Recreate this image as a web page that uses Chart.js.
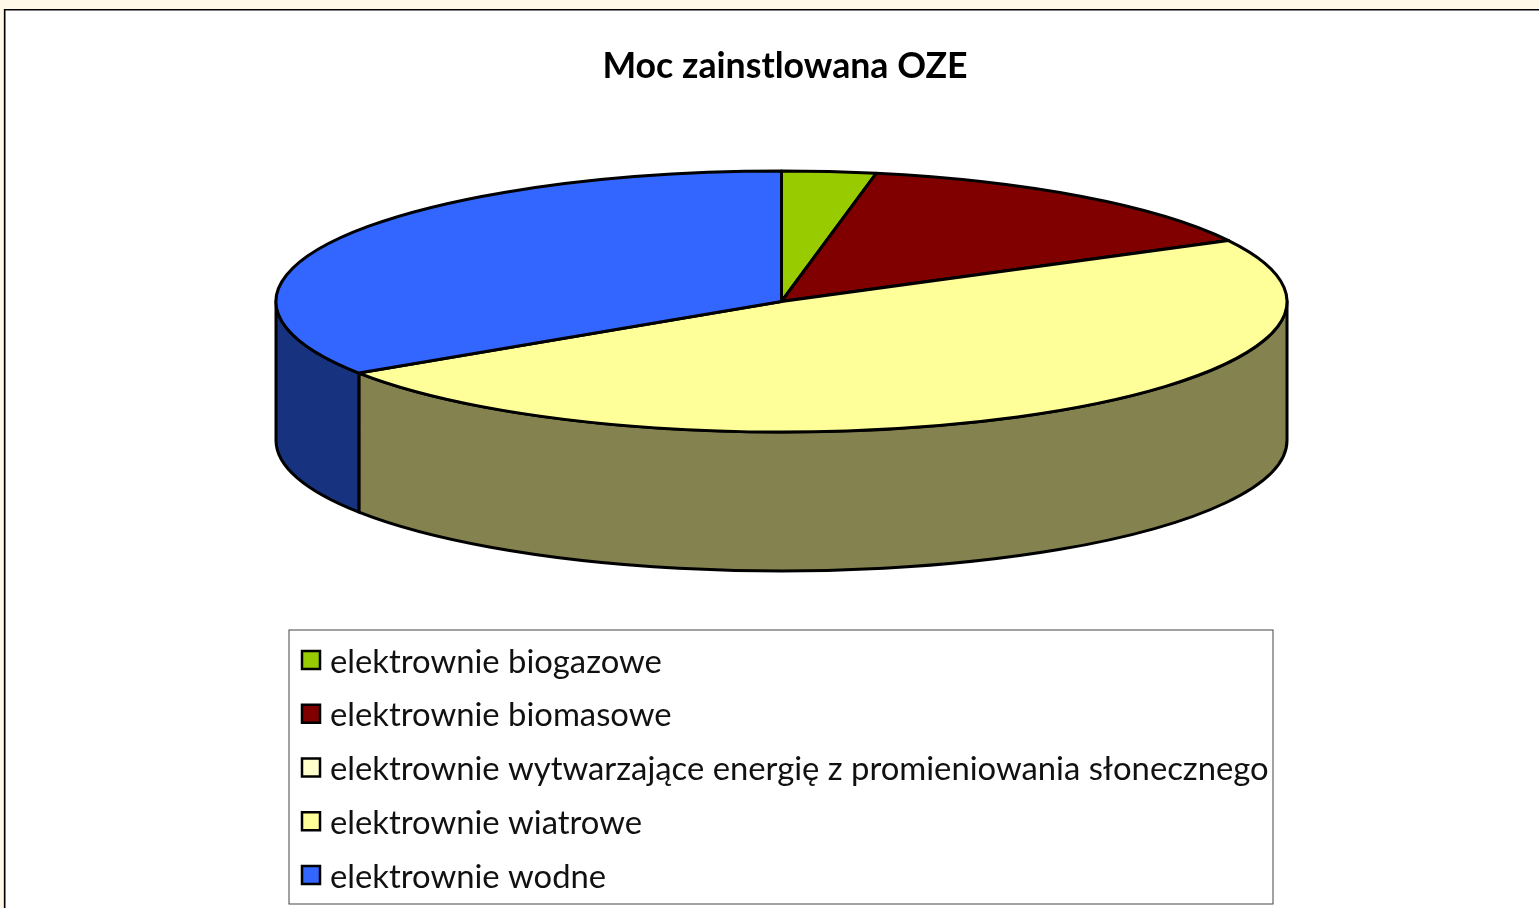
<!DOCTYPE html>
<html>
<head>
<meta charset="utf-8">
<style>
html, body { margin: 0; padding: 0; background: #fff8e8; overflow: hidden; }
canvas { display: block; }
</style>
<script src="https://cdn.jsdelivr.net/npm/chart.js@4"></script>
</head>
<body>
<canvas id="mypie" width="1539" height="908"></canvas>
<script>
const chartTitle = 'Moc zainstlowana OZE'
const categories = [
    'elektrownie biogazowe',
    'elektrownie biomasowe',
    'elektrownie wytwarzające energię z promieniowania słonecznego',
    'elektrownie wiatrowe',
    'elektrownie wodne'
]
const values = [3, 14.25, 0.02, 48.5, 34.25]
const topColors = ['#99cc00', '#800000', '#ffffcc', '#ffff99', '#3366ff']
const sideColors = ['#4d6600', '#400000', '#80804d', '#84824f', '#17337f']

// tilted pie: the controller gives the angles, we squash them into an ellipse
const tiltPlugin = {
    id: 'tilt',
    beforeDraw(chart) {
        const ctx = chart.ctx
        ctx.save()
        ctx.fillStyle = '#fff8e8'
        ctx.fillRect(0, 0, 1539, 908)
        ctx.fillStyle = '#d8d4c4'
        ctx.fillRect(3, 9, 1536, 899)
        ctx.fillStyle = '#000'
        ctx.fillRect(4, 9, 1535, 899)
        ctx.fillStyle = '#fff'
        ctx.fillRect(5.5, 10.5, 1534, 898)
        ctx.restore()
    },
    beforeDatasetsDraw(chart) {
        const ctx = chart.ctx
        const arcs = chart.getDatasetMeta(0).data
        const cx = 781.5, cy = 301.5, ry = 130.5, depth = 139
        ctx.save()
        ctx.lineWidth = 3
        ctx.lineJoin = 'round'
        ctx.strokeStyle = '#000'
        arcs.forEach((arc, i) => {
            const p = arc.getProps(['startAngle', 'endAngle', 'outerRadius'], true)
            const a = Math.max(p.startAngle, 0)
            const b = Math.min(p.endAngle, Math.PI)
            if (b <= a) return
            ctx.beginPath()
            ctx.ellipse(cx, cy, p.outerRadius, ry, 0, a, b)
            ctx.ellipse(cx, cy + depth, p.outerRadius, ry, 0, b, a, true)
            ctx.closePath()
            ctx.fillStyle = sideColors[i]
            ctx.fill()
            ctx.stroke()
        })
        arcs.forEach((arc, i) => {
            const p = arc.getProps(['startAngle', 'endAngle', 'outerRadius'], true)
            ctx.beginPath()
            ctx.moveTo(cx, cy)
            ctx.ellipse(cx, cy, p.outerRadius, ry, 0, p.startAngle, p.endAngle)
            ctx.closePath()
            ctx.fillStyle = topColors[i]
            ctx.fill()
            ctx.stroke()
        })
        ctx.restore()
        return false
    },
    afterDraw(chart) {
        const ctx = chart.ctx
        ctx.save()
        ctx.strokeStyle = '#444'
        ctx.lineWidth = 1
        ctx.strokeRect(289, 630, 984, 274)
        ctx.font = '32.8px Lato'
        ctx.textBaseline = 'middle'
        categories.forEach((label, i) => {
            const y = 661 + i * 53.75
            ctx.fillStyle = topColors[i]
            ctx.strokeStyle = '#000'
            ctx.lineWidth = 2.5
            ctx.fillRect(302, y - 10, 18, 18)
            ctx.strokeRect(302, y - 10, 18, 18)
            ctx.fillStyle = '#111'
            ctx.fillText(label, 330, y + 1)
        })
        ctx.restore()
    }
}

var mypie = new Chart(document.getElementById('mypie'), {
    type: 'pie',
    data: {
        labels: categories,
        datasets: [{
            data: values,
            backgroundColor: topColors
        }]
    },
    options: {
        responsive: false,
        animation: false,
        radius: 505.5,
        layout: { padding: { left: 31 } },
        plugins: {
            legend: { display: false },
            tooltip: { enabled: false },
            title: {
                display: true,
                text: chartTitle,
                color: '#000',
                font: { family: 'Lato', size: 35.7, weight: 'bold' },
                padding: { top: 45, bottom: 10 }
            }
        }
    },
    plugins: [tiltPlugin]
})
</script>
</body>
</html>
